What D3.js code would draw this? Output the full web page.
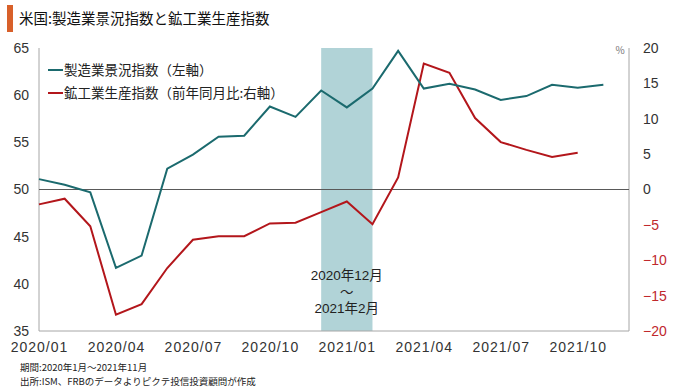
<!DOCTYPE html>
<html>
<head>
<meta charset="utf-8">
<script src="https://cdn.jsdelivr.net/npm/d3@7"></script>
<style>
  body { margin: 0; background: #fff; }
  svg text { font-family: "Noto Sans CJK JP", "Noto Sans", sans-serif; }
</style>
</head>
<body>
<div id="chart"></div>
<script>
// 2020/01 .. 2021/11
var months = ["2020/01","2020/02","2020/03","2020/04","2020/05","2020/06","2020/07","2020/08",
  "2020/09","2020/10","2020/11","2020/12","2021/01","2021/02","2021/03","2021/04","2021/05",
  "2021/06","2021/07","2021/08","2021/09","2021/10","2021/11"];
var ism = [51.1, 50.5, 49.7, 41.7, 43.0, 52.2, 53.7, 55.6, 55.7, 58.8, 57.7, 60.5,
  58.7, 60.7, 64.7, 60.7, 61.2, 60.6, 59.5, 59.9, 61.1, 60.8, 61.1];
var ipYoy = [-2.1, -1.3, -5.2, -17.7, -16.2, -11.1, -7.1, -6.6, -6.6, -4.8, -4.7, -3.2,
  -1.7, -4.9, 1.7, 17.8, 16.5, 10.1, 6.7, 5.6, 4.6, 5.2, null];
var xTickLabels = ["2020/01","2020/04","2020/07","2020/10","2021/01","2021/04","2021/07","2021/10"];
var leftTicks = [35, 40, 45, 50, 55, 60, 65];
var rightTicks = [-20, -15, -10, -5, 0, 5, 10, 15, 20];
var shade = ["2020/12", "2021/02"];

var W = 680, H = 388;
var margin = {top: 48, right: 51, bottom: 57, left: 39},
    width = W - margin.left - margin.right,
    height = H - margin.top - margin.bottom;

var teal = "#1b6a6e", red = "#b3161b";
var numFont = "'Liberation Sans', Arial, sans-serif";

var svg = d3.select("#chart").append("svg")
    .attr("width", W)
    .attr("height", H);

// title
svg.append("rect").attr("x", 7).attr("y", 5).attr("width", 6).attr("height", 27).attr("fill", "#d8602a");
svg.append("text").attr("x", 19).attr("y", 24).attr("font-size", 14.5).attr("fill", "#111")
    .text("米国:製造業景況指数と鉱工業生産指数");

var g = svg.append("g")
    .attr("transform", "translate(" + margin.left + "," + margin.top + ")");

var x = d3.scaleLinear().domain([0, months.length]).range([0, width]);
var yL = d3.scaleLinear().domain([35, 65]).range([height, 0]);
var yR = d3.scaleLinear().domain([-20, 20]).range([height, 0]);

// shaded period
var s0 = months.indexOf(shade[0]), s1 = months.indexOf(shade[1]);
g.append("rect")
    .attr("x", x(s0)).attr("y", 0)
    .attr("width", x(s1) - x(s0)).attr("height", height)
    .attr("fill", "#b1d3d7");

["2020年12月", "～", "2021年2月"].forEach(function(t, i) {
  g.append("text")
    .attr("text-anchor", "middle")
    .attr("font-size", 13.5)
    .attr("fill", "#222")
    .style("font-family", "'Liberation Sans', 'Noto Sans CJK JP', sans-serif")
    .attr("x", (x(s0) + x(s1)) / 2)
    .attr("y", 232 + i * 16.5)
    .text(t);
});

// axes frame
g.append("line").attr("x1", 0).attr("x2", 0).attr("y1", 0).attr("y2", height).attr("stroke", "#a6a6a6");
g.append("line").attr("x1", width).attr("x2", width).attr("y1", 0).attr("y2", height).attr("stroke", "#a6a6a6");
g.append("line").attr("x1", 0).attr("x2", width).attr("y1", height).attr("y2", height).attr("stroke", "#a6a6a6");
g.append("line").attr("x1", 0).attr("x2", width).attr("y1", yL(50)).attr("y2", yL(50))
    .attr("stroke", "#595959").attr("stroke-width", 1.2);

var leftAxis = d3.axisLeft(yL).tickValues(leftTicks).tickSize(0).tickPadding(10);
g.append("g").call(leftAxis)
  .call(function(a) { a.select(".domain").remove(); })
  .selectAll("text").attr("font-size", 14).attr("fill", "#333")
  .style("font-family", numFont);

var rightAxis = d3.axisRight(yR).tickValues(rightTicks).tickSize(0).tickPadding(14)
    .tickFormat(function(d) { return d < 0 ? "−" + Math.abs(d) : d; });
g.append("g").attr("transform", "translate(" + width + ",0)").call(rightAxis)
  .call(function(a) { a.select(".domain").remove(); })
  .selectAll("text").attr("font-size", 14)
  .style("font-family", numFont)
  .attr("fill", function(d) { return d < 0 ? "#c0282d" : "#333"; });

g.append("text").attr("x", width - 9).attr("y", 6).attr("text-anchor", "middle")
    .attr("font-size", 10).attr("fill", "#777").text("%");

var xAxis = d3.axisBottom(x)
    .tickValues(xTickLabels.map(function(d) { return months.indexOf(d); }))
    .tickFormat(function(i) { return months[i]; })
    .tickSize(0).tickPadding(11);
g.append("g").attr("transform", "translate(0," + height + ")").call(xAxis)
  .call(function(a) { a.select(".domain").remove(); })
  .selectAll("text").attr("font-size", 14).attr("fill", "#333")
  .style("font-family", numFont).style("letter-spacing", "1px");

// lines
var lineL = d3.line().x(function(d, i) { return x(i); }).y(function(d) { return yL(d); });
var lineR = d3.line().defined(function(d) { return d != null; })
    .x(function(d, i) { return x(i); }).y(function(d) { return yR(d); });

g.append("path").datum(ipYoy).attr("d", lineR)
    .attr("fill", "none").attr("stroke", red).attr("stroke-width", 2);
g.append("path").datum(ism).attr("d", lineL)
    .attr("fill", "none").attr("stroke", teal).attr("stroke-width", 2);

// legend
var legend = [{name: "製造業景況指数（左軸）", color: teal}, {name: "鉱工業生産指数（前年同月比:右軸）", color: red}];
var lg = g.selectAll(".legend").data(legend).enter().append("g")
    .attr("transform", function(d, i) { return "translate(9," + (22 + i * 23) + ")"; });
lg.append("line").attr("x1", 0).attr("x2", 15).attr("stroke", function(d) { return d.color; }).attr("stroke-width", 2);
lg.append("text").attr("x", 16).attr("dy", "0.35em").attr("font-size", 13.5).attr("fill", "#222")
    .text(function(d) { return d.name; });

// footer
svg.append("text").attr("x", 20).attr("y", 371).attr("font-size", 9.5).attr("fill", "#222")
    .text("期間:2020年1月～2021年11月");
svg.append("text").attr("x", 20).attr("y", 385).attr("font-size", 9.5).attr("fill", "#222")
    .text("出所:ISM、FRBのデータよりピクテ投信投資顧問が作成");
</script>
</body>
</html>
